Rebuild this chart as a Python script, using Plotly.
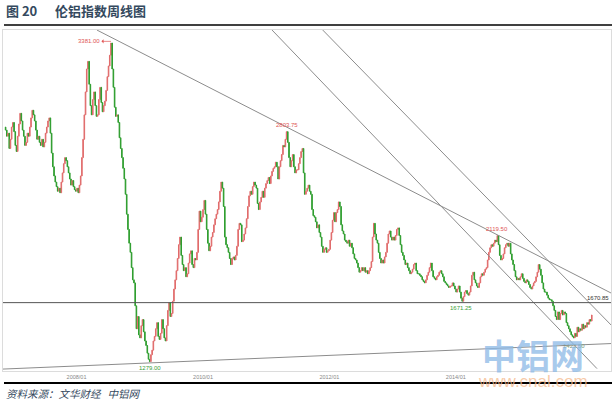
import plotly.graph_objects as go
import pandas as pd

# ---------------- data (weekly closes, LME aluminium index) ----------------
start_date = "2006-11-17"
first_open = 2820
close = [
    2800, 2760,                                   # 2006-11
    2780, 2680, 2740, 2820, 2850,                 # 2006-12
    2790, 2700, 2660, 2760,                       # 2007-01
    2840, 2910, 2860, 2800,                       # 2007-02
    2760, 2700, 2720, 2780, 2760,                 # 2007-03
    2820, 2880, 2930, 2900,                       # 2007-04
    2860, 2800, 2740, 2760,                       # 2007-05
    2720, 2700, 2740, 2690, 2720,                 # 2007-06
    2780, 2820, 2860, 2880,                       # 2007-07
    2780, 2650, 2560, 2500, 2460,                 # 2007-08
    2430, 2400, 2420, 2390,                       # 2007-09
    2460, 2520, 2580, 2620,                       # 2007-10
    2600, 2560, 2520, 2480, 2440,                 # 2007-11
    2470, 2430, 2410, 2400,                       # 2007-12
    2420, 2390, 2440, 2500,                       # 2008-01
    2620, 2740, 2900, 3050, 3200,                 # 2008-02
    3250, 3100, 2960, 2900,                       # 2008-03
    3000, 3050, 2960, 2890,                       # 2008-04
    2900, 3000, 3080, 2980, 2920,                 # 2008-05
    2960, 2990, 3060, 3150,                       # 2008-06
    3220, 3290, 3370, 3200,                       # 2008-07
    3080, 2950, 2890, 2900, 2850,                 # 2008-08
    2750, 2680, 2620, 2550,                       # 2008-09
    2480, 2380, 2250, 2150, 2060,                 # 2008-10
    2000, 1900, 1820, 1800,                       # 2008-11
    1650, 1500, 1580, 1460,                       # 2008-12
    1440, 1520, 1560, 1480, 1420,                 # 2009-01
    1390, 1340, 1300, 1285,                       # 2009-02
    1330, 1360, 1420, 1450,                       # 2009-03
    1500, 1540, 1450, 1430,                       # 2009-04
    1470, 1560, 1500, 1440, 1420,                 # 2009-05
    1520, 1620, 1670, 1580,                       # 2009-06
    1600, 1680, 1760, 1820, 1880,                 # 2009-07
    1960, 2050, 2100, 1980,                       # 2009-08
    1920, 1880, 1900, 1840,                       # 2009-09
    1860, 1930, 1990, 2010, 1920,                 # 2009-10
    1900, 1960, 1950, 2000,                       # 2009-11
    2150, 2270, 2200, 2230,                       # 2009-12
    2280, 2340, 2250, 2150, 2060,                 # 2010-01
    2010, 2040, 2100, 2130,                       # 2010-02
    2180, 2220, 2250, 2280,                       # 2010-03
    2330, 2400, 2460, 2420, 2300,                 # 2010-04
    2100, 2050, 2030, 2000,                       # 2010-05
    1960, 1920, 1960, 1970,                       # 2010-06
    1950, 1980, 2040, 2150, 2190,                 # 2010-07
    2180, 2070, 2080, 2120,                       # 2010-08
    2160, 2220, 2300, 2370,                       # 2010-09
    2400, 2380, 2430, 2460, 2440,                 # 2010-10
    2420, 2320, 2280, 2330,                       # 2010-11
    2360, 2400, 2360, 2420, 2450,                 # 2010-12
    2470, 2490, 2450, 2500,                       # 2011-01
    2530, 2550, 2560, 2590,                       # 2011-02
    2560, 2480, 2560, 2600,                       # 2011-03
    2640, 2700, 2690, 2740, 2790,                 # 2011-04
    2720, 2620, 2560, 2600,                       # 2011-05
    2640, 2560, 2520, 2540,                       # 2011-06
    2540, 2580, 2620, 2660, 2680,                 # 2011-07
    2520, 2380, 2400, 2420,                       # 2011-08
    2440, 2400, 2380, 2280, 2240,                 # 2011-09
    2230, 2200, 2160, 2180,                       # 2011-10
    2130, 2100, 2040, 2000,                       # 2011-11
    2020, 2030, 2000, 2010, 2020,                 # 2011-12
    2080, 2130, 2210, 2260,                       # 2012-01
    2200, 2260, 2280, 2330,                       # 2012-02
    2300, 2180, 2140, 2120, 2080,                 # 2012-03
    2070, 2060, 2080, 2040,                       # 2012-04
    2060, 2030, 1990, 1960,                       # 2012-05
    1950, 1930, 1900, 1870, 1880,                 # 2012-06
    1900, 1880, 1900, 1870,                       # 2012-07
    1880, 1860, 1880, 1900, 1940,                 # 2012-08
    2100, 2190, 2120, 2080,                       # 2012-09
    2060, 2000, 1960, 1930,                       # 2012-10
    1950, 1930, 1970, 2000, 2060,                 # 2012-11
    2120, 2140, 2100, 2080,                       # 2012-12
    2100, 2080, 2110, 2150,                       # 2013-01
    2160, 2110, 2050, 2000,                       # 2013-02
    1980, 1950, 1920, 1930, 1900,                 # 2013-03
    1880, 1860, 1870, 1890,                       # 2013-04
    1920, 1930, 1880, 1860, 1860,                 # 2013-05
    1850, 1840, 1820, 1810,                       # 2013-06
    1800, 1820, 1850, 1870,                       # 2013-07
    1900, 1930, 1880, 1840, 1830,                 # 2013-08
    1820, 1840, 1850, 1870,                       # 2013-09
    1880, 1860, 1840, 1810,                       # 2013-10
    1800, 1790, 1780, 1770, 1780,                 # 2013-11
    1780, 1800, 1780, 1760,                       # 2013-12
    1740, 1760, 1780, 1740, 1700,                 # 2014-01
    1680, 1710, 1740, 1750,                       # 2014-02
    1730, 1720, 1740, 1780,                       # 2014-03
    1850, 1870, 1820, 1800,                       # 2014-04
    1780, 1770, 1800, 1840, 1860,                 # 2014-05
    1850, 1870, 1890, 1900,                       # 2014-06
    1950, 2000, 2030, 2050,                       # 2014-07
    2040, 2060, 2080, 2070, 2110,                 # 2014-08
    2050, 1980, 1950, 1960,                       # 2014-09
    1990, 2030, 2050, 2060, 2040,                 # 2014-10
    2060, 1990, 1950, 1920,                       # 2014-11
    1880, 1840, 1820, 1830,                       # 2014-12
    1820, 1840, 1860, 1830, 1810,                 # 2015-01
    1800, 1820, 1810, 1790,                       # 2015-02
    1770, 1760, 1780, 1800,                       # 2015-03
    1810, 1840, 1870, 1920,                       # 2015-04
    1890, 1850, 1800, 1760, 1740,                 # 2015-05
    1740, 1720, 1700, 1690,                       # 2015-06
    1690, 1680, 1650, 1620, 1580,                 # 2015-07
    1560, 1610, 1560, 1600,                       # 2015-08
    1620, 1590, 1610, 1600,                       # 2015-09
    1540, 1520, 1500, 1480, 1460,                 # 2015-10
    1450, 1440, 1470, 1450,                       # 2015-11
    1510, 1480, 1500, 1490,                       # 2015-12
    1530, 1500, 1520, 1510, 1540,                 # 2016-01
    1530, 1560, 1550, 1590,                       # 2016-02
]

# trend lines (anchor dates / prices)
l1_dates = ["2008-04-28", "2016-06-16"]
l1_prices = [3455, 1734]
l2_dates = ["2011-02-04", "2016-03-27"]
l2_prices = [3455, 1239]
l3_dates = ["2011-11-24", "2016-06-22"]
l3_prices = [3455, 1518]
base_dates = ["2006-11-02", "2016-06-16"]
base_prices = [1236, 1403]
support_level = 1670.85

# point labels
label_dates = ["2011-04-29", "2014-08-29", "2014-01-31", "2009-02-27", "2015-11-13"]
label_values = [2803.75, 2119.50, 1671.25, 1279.00, 1422.50]
label_texts = ["2803.75", "2119.50", "1671.25", "1279.00", "1422.50"]
label_side = ["top", "top", "bottom", "bottom", "bottom"]
peak_date = "2008-07-18"
peak_value = 3381.00
peak_text = "3381.00"

tick_dates = ["2008-01-01", "2010-01-01", "2012-01-01", "2014-01-01"]
tick_text = ["2008/01", "2010/01", "2012/01", "2014/01"]

# ---------------- build ----------------
dates = pd.date_range(start_date, periods=len(close), freq="7D")
opens = [first_open] + close[:-1]
highs = [max(o, c) for o, c in zip(opens, close)]
lows = [min(o, c) for o, c in zip(opens, close)]

W, H = 614, 411
ML, MR, MT, MB = 3, 3, 30, 40
PW, PH = W - ML - MR, H - MT - MB


def px(xp):
    return (xp - ML) / PW


def py(yp):
    return (H - MB - yp) / PH


fig = go.Figure()
fig.add_trace(go.Candlestick(
    x=dates, open=opens, high=highs, low=lows, close=close,
    increasing=dict(line=dict(color="#e06a6a", width=1), fillcolor="#f2a5a5"),
    decreasing=dict(line=dict(color="#2f9e2f", width=1), fillcolor="#2f9e2f"),
    whiskerwidth=0, showlegend=False, hoverinfo="skip",
))

for d, p in [(l1_dates, l1_prices), (l2_dates, l2_prices), (l3_dates, l3_prices), (base_dates, base_prices)]:
    fig.add_trace(go.Scatter(x=d, y=p, mode="lines", line=dict(color="#8c8c8c", width=1),
                             showlegend=False, hoverinfo="skip"))

fig.add_shape(type="line", xref="paper", yref="y", x0=0, x1=1, y0=support_level, y1=support_level,
              line=dict(color="#555555", width=1))

num_font = "Liberation Sans, Arial, sans-serif"
annotations = []
for d, v, t, s in zip(label_dates, label_values, label_texts, label_side):
    col = "#e05555" if s == "top" else "#3aa03a"
    if t == "1422.50":
        col = "#7a9a7a"
    annotations.append(dict(x=d, y=v, xref="x", yref="y", text=t, showarrow=False,
                            yanchor="bottom" if s == "top" else "top",
                            font=dict(size=6, color=col, family=num_font)))
annotations.append(dict(x=peak_date, y=peak_value, xref="x", yref="y", text=peak_text,
                        showarrow=True, ax=-22, ay=0, arrowside="start", arrowhead=2,
                        arrowsize=0.6, arrowwidth=0.7, arrowcolor="#e05555", standoff=0,
                        font=dict(size=6, color="#e05555", family=num_font)))
annotations.append(dict(x=1, y=support_level, xref="paper", yref="y", text=f"{support_level:.2f}",
                        showarrow=False, xanchor="right", yanchor="bottom",
                        font=dict(size=6, color="#333333", family=num_font)))

cjk = "Noto Sans CJK SC, sans-serif"
annotations += [
    dict(x=px(4), y=py(10.5), xref="paper", yref="paper", text="<b>图 20</b>", showarrow=False,
         xanchor="left", yanchor="middle", font=dict(size=13, color="#34495e", family=cjk)),
    dict(x=px(53), y=py(10.5), xref="paper", yref="paper", text="<b>伦铝指数周线图</b>", showarrow=False,
         xanchor="left", yanchor="middle", font=dict(size=13, color="#34495e", family=cjk)),
    dict(x=px(4), y=py(393), xref="paper", yref="paper", text="<i>资料来源：文华财经   中铝网</i>",
         showarrow=False, xanchor="left", yanchor="middle", font=dict(size=10.5, color="#34495e", family=cjk)),
    dict(x=px(533), y=py(354), xref="paper", yref="paper", text="<b>中铝网</b>", showarrow=False,
         xanchor="center", yanchor="middle", font=dict(size=34, color="rgba(140,185,230,0.75)", family=cjk)),
    dict(x=px(533), y=py(381), xref="paper", yref="paper", text="www.cnal.com", showarrow=False,
         xanchor="center", yanchor="middle", font=dict(size=17, color="rgba(245,185,140,0.75)", family=num_font)),
]

fig.add_shape(type="line", xref="paper", yref="paper", x0=px(4), x1=px(612), y0=py(25), y1=py(25),
              line=dict(color="#000000", width=1.6))
fig.add_shape(type="line", xref="paper", yref="paper", x0=px(4), x1=px(612), y0=py(383), y1=py(383),
              line=dict(color="#000000", width=1.8))

fig.update_layout(
    width=W, height=H, margin=dict(l=ML, r=MR, t=MT, b=MB),
    paper_bgcolor="white", plot_bgcolor="white",
    annotations=annotations,
    xaxis=dict(type="date", range=["2006-11-02", "2016-06-16"], rangeslider=dict(visible=False),
               tickvals=tick_dates, ticktext=tick_text, tickfont=dict(size=5.5, color="#888888", family=num_font),
               showgrid=False, zeroline=False, showline=True, linecolor="#dcdcdc", mirror=True, ticks=""),
    yaxis=dict(range=[1223.4, 3455.3], showticklabels=False, showgrid=False, zeroline=False,
               showline=True, linecolor="#dcdcdc", mirror=True, ticks=""),
)

fig.write_html("out.html", config={"displayModeBar": False},
               post_script="document.body.style.margin='0';document.body.style.overflow='hidden';")
